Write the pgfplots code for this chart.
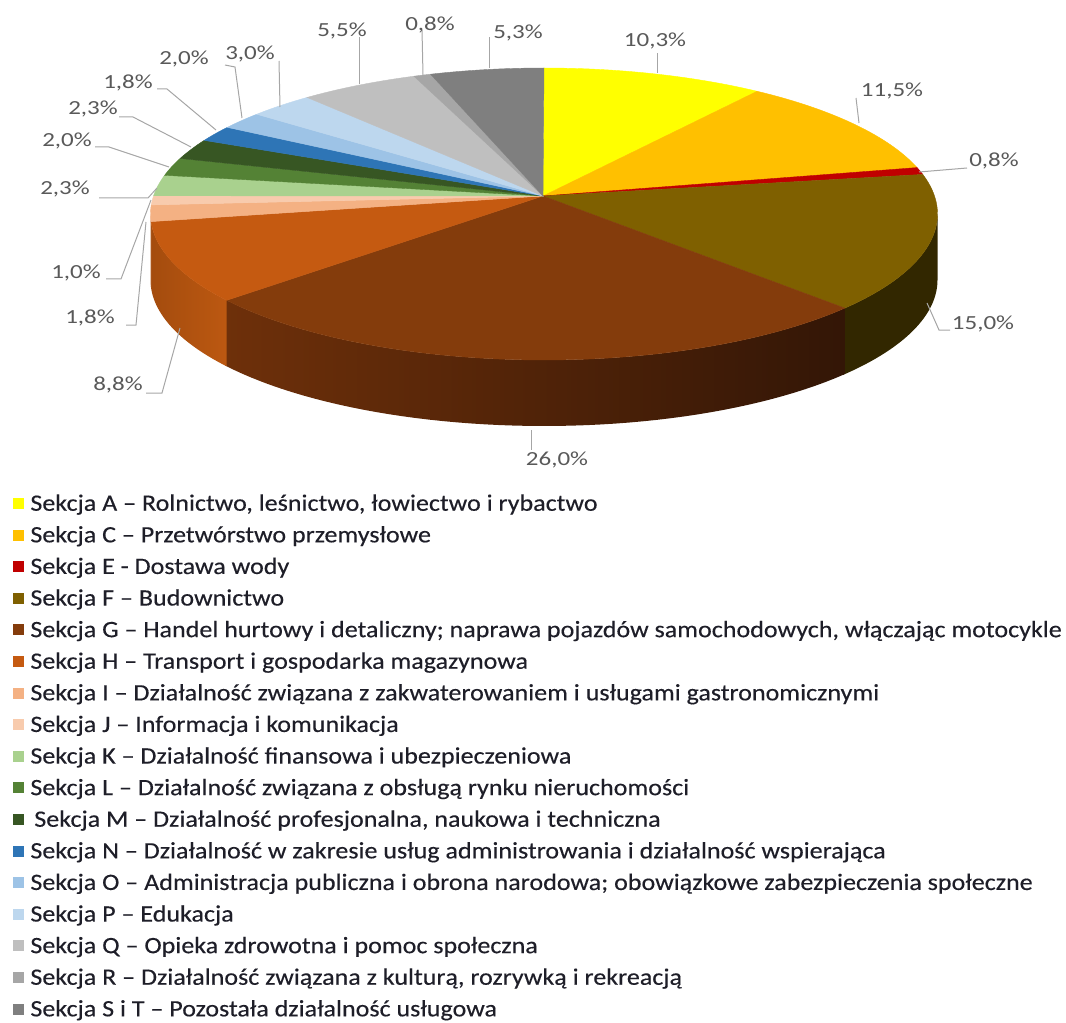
\documentclass[border=0pt]{standalone}
\usepackage{fontspec}
\setmainfont{Carlito}
\newfontfamily\legfamily{Carlito}[FakeStretch=1.11, FakeBold=0.3]
\newfontfamily\lblfamily{Carlito}[FakeStretch=1.25]
\usepackage{pgfplots}
\pgfplotsset{compat=1.18}

\definecolor{pc1}{HTML}{FFFF00}
\definecolor{pc2}{HTML}{FFC000}
\definecolor{pc3}{HTML}{C00000}
\definecolor{pc4}{HTML}{7F6000}
\definecolor{pc5}{HTML}{843C0C}
\definecolor{pc6}{HTML}{C55A11}
\definecolor{pc7}{HTML}{F4B183}
\definecolor{pc8}{HTML}{F8CBAD}
\definecolor{pc9}{HTML}{A9D18E}
\definecolor{pc10}{HTML}{548235}
\definecolor{pc11}{HTML}{375623}
\definecolor{pc12}{HTML}{2E75B6}
\definecolor{pc13}{HTML}{9DC3E6}
\definecolor{pc14}{HTML}{BDD7EE}
\definecolor{pc15}{HTML}{BFBFBF}
\definecolor{pc16}{HTML}{A6A6A6}
\definecolor{pc17}{HTML}{7F7F7F}
\definecolor{sF}{HTML}{322700}
\definecolor{sGl}{HTML}{6E300A}
\definecolor{sGr}{HTML}{331606}
\definecolor{sHl}{HTML}{A44C0E}
\definecolor{sHr}{HTML}{BC5811}
\definecolor{sI}{HTML}{C98A5E}
\definecolor{lblc}{HTML}{595959}
\definecolor{leadc}{HTML}{A6A6A6}
\definecolor{legc}{HTML}{1E1E28}

\expandafter\def\csname pn1\endcsname{Sekcja A – Rolnictwo, leśnictwo, łowiectwo i rybactwo}
\expandafter\def\csname pn2\endcsname{Sekcja C – Przetwórstwo przemysłowe}
\expandafter\def\csname pn3\endcsname{Sekcja E - Dostawa wody}
\expandafter\def\csname pn4\endcsname{Sekcja F – Budownictwo}
\expandafter\def\csname pn5\endcsname{Sekcja G – Handel hurtowy i detaliczny; naprawa pojazdów samochodowych, włączając motocykle}
\expandafter\def\csname pn6\endcsname{Sekcja H – Transport i gospodarka magazynowa}
\expandafter\def\csname pn7\endcsname{Sekcja I – Działalność związana z zakwaterowaniem i usługami gastronomicznymi}
\expandafter\def\csname pn8\endcsname{Sekcja J – Informacja i komunikacja}
\expandafter\def\csname pn9\endcsname{Sekcja K – Działalność finansowa i ubezpieczeniowa}
\expandafter\def\csname pn10\endcsname{Sekcja L – Działalność związana z obsługą rynku nieruchomości}
\expandafter\def\csname pn11\endcsname{\,Sekcja M – Działalność profesjonalna, naukowa i techniczna}
\expandafter\def\csname pn12\endcsname{Sekcja N – Działalność w zakresie usług administrowania i działalność wspierająca}
\expandafter\def\csname pn13\endcsname{Sekcja O – Administracja publiczna i obrona narodowa; obowiązkowe zabezpieczenia społeczne}
\expandafter\def\csname pn14\endcsname{Sekcja P – Edukacja}
\expandafter\def\csname pn15\endcsname{Sekcja Q – Opieka zdrowotna i pomoc społeczna}
\expandafter\def\csname pn16\endcsname{Sekcja R – Działalność związana z kulturą, rozrywką i rekreacją}
\expandafter\def\csname pn17\endcsname{Sekcja S i T – Pozostała działalność usługowa}

% shares in percent
\def\pievalues{10.3,11.5,0.8,15.0,26.0,8.8,1.8,1.0,2.3,2.0,2.3,1.8,2.0,3.0,5.5,0.8,5.3}
\def\pietotal{100.2}
\gdef\cum{0}
\foreach \v [count=\i] in \pievalues {
  \pgfmathsetmacro\s{(\cum/\pietotal)*360}
  \pgfmathsetmacro\e{((\cum+\v)/\pietotal)*360}
  \expandafter\xdef\csname ps\i\endcsname{\s}
  \expandafter\xdef\csname pe\i\endcsname{\e}
  \pgfmathsetmacro\nc{\cum+\v}
  \xdef\cum{\nc}
}
% visible side parts (front half of the rim), slightly overlapping
\pgfmathsetmacro\fa{max(\csname ps4\endcsname,96.95)}
\pgfmathsetmacro\fb{\csname pe4\endcsname+0.4}
\pgfmathsetmacro\ga{\csname ps5\endcsname}
\pgfmathsetmacro\gb{\csname pe5\endcsname+0.4}
\pgfmathsetmacro\ha{\csname ps6\endcsname}
\pgfmathsetmacro\hb{\csname pe6\endcsname+0.4}
\pgfmathsetmacro\ia{\csname ps7\endcsname}
\pgfmathsetmacro\ib{min(\csname pe7\endcsname,263.05)}
\def\sideS{0,0.02,...,0.98,1,1.00001,1.02,1.04,...,1.98,2}

\tikzset{leader/.style={draw=leadc, line width=0.75pt},
  lbl/.style={font=\lblfamily\fontsize{15}{18}\selectfont, text=lblc, inner sep=0pt}}

\begin{document}
\begin{tikzpicture}
\useasboundingbox (0,0) rectangle (799.5pt,767.25pt);
\begin{axis}[at={(0,0)}, anchor=south west,
  width=799.5pt, height=767.25pt, scale only axis,
  xmin=0, xmax=1066, ymin=0, ymax=1023, y dir=reverse,
  hide axis, clip=false,
  declare function={
    rimx(\t)=544+393.5*sin(\t-7*sin(\t));
    rimy(\t)=214-146*cos(\t-7*sin(\t));
    th(\s,\a,\b)=\a+(\b-\a)*min(\s,2-\s);
  },
  legend image code/.code={\fill[#1] (0pt,-3.75pt) rectangle (7.5pt,3.75pt);},
  legend cell align=left,
  legend style={at={(axis cs:13,489)}, anchor=north west, draw=none, fill=none,
    inner sep=0pt, outer sep=0pt, row sep=2.4pt,
    font=\legfamily\fontsize{17.6}{20}\selectfont, text=legc,
    nodes={inner sep=0pt, text height=16.3pt, text depth=5pt},
    /tikz/every odd column/.append style={column sep=5.25pt}},
]
% side walls of the front half
\addplot[forget plot, draw=none, fill=sF, samples at=\sideS]
  ({rimx(th(x,\fa,\fb))},{rimy(th(x,\fa,\fb))+66*(x>1)});
\addplot[forget plot, draw=none, left color=sGl, right color=sGr, samples at=\sideS]
  ({rimx(th(x,\ga,\gb))},{rimy(th(x,\ga,\gb))+66*(x>1)});
\addplot[forget plot, draw=none, left color=sHl, right color=sHr, samples at=\sideS]
  ({rimx(th(x,\ha,\hb))},{rimy(th(x,\ha,\hb))+66*(x>1)});
\addplot[forget plot, draw=none, fill=sI, samples at={0,0.5,1,1.00001,1.5,2}]
  ({rimx(th(x,\ia,\ib))},{rimy(th(x,\ia,\ib))+66*(x>1)});
% top faces
\pgfplotsinvokeforeach{1,...,17}{
  \addplot[fill=pc#1, draw=pc#1, line width=0.3pt, samples=60,
    domain=\csname ps#1\endcsname:\csname pe#1\endcsname]
    ({rimx(x)},{rimy(x)}) -- (axis cs:543,196) -- cycle;
  \addlegendentry{\csname pn#1\endcsname}
}
% leader lines
\draw[leader] (axis cs:657,73) -- (axis cs:657,53);
\draw[leader] (axis cs:859,123) -- (axis cs:856,98);
\draw[leader] (axis cs:919,172) -- (axis cs:967,168);
\draw[leader] (axis cs:927,303) -- (axis cs:939,330) -- (axis cs:950,330);
\draw[leader] (axis cs:531,430) -- (axis cs:531,450);
\draw[leader] (axis cs:180,328) -- (axis cs:162,393) -- (axis cs:146,393);
\draw[leader] (axis cs:146,222) -- (axis cs:136,325) -- (axis cs:126,325);
\draw[leader] (axis cs:151,200) -- (axis cs:121,279) -- (axis cs:106,279);
\draw[leader] (axis cs:157,188) -- (axis cs:148,198) -- (axis cs:99,198);
\draw[leader] (axis cs:169,167) -- (axis cs:109,147) -- (axis cs:95,147);
\draw[leader] (axis cs:191,147) -- (axis cs:133,117) -- (axis cs:119,117);
\draw[leader] (axis cs:216,130) -- (axis cs:167,89) -- (axis cs:157,89);
\draw[leader] (axis cs:242,118) -- (axis cs:235,67) -- (axis cs:225,65);
\draw[leader] (axis cs:280,107) -- (axis cs:279,61);
\draw[leader] (axis cs:359,84) -- (axis cs:359,37);
\draw[leader] (axis cs:423,75) -- (axis cs:422,30);
\draw[leader] (axis cs:489,68) -- (axis cs:489,37);
% data labels
\node[lbl] at (axis cs:655,41) {10,3\%};
\node[lbl] at (axis cs:892,91) {11,5\%};
\node[lbl] at (axis cs:994,161) {0,8\%};
\node[lbl] at (axis cs:983,324) {15,0\%};
\node[lbl] at (axis cs:557,460) {26,0\%};
\node[lbl] at (axis cs:118,385) {8,8\%};
\node[lbl] at (axis cs:90,318) {1,8\%};
\node[lbl] at (axis cs:76,273) {1,0\%};
\node[lbl] at (axis cs:65,189) {2,3\%};
\node[lbl] at (axis cs:67,141) {2,0\%};
\node[lbl] at (axis cs:93,109) {2,3\%};
\node[lbl] at (axis cs:128,83) {1,8\%};
\node[lbl] at (axis cs:184,59) {2,0\%};
\node[lbl] at (axis cs:250,54) {3,0\%};
\node[lbl] at (axis cs:342,31) {5,5\%};
\node[lbl] at (axis cs:430,25) {0,8\%};
\node[lbl] at (axis cs:518,33) {5,3\%};
\end{axis}
\end{tikzpicture}
\end{document}
